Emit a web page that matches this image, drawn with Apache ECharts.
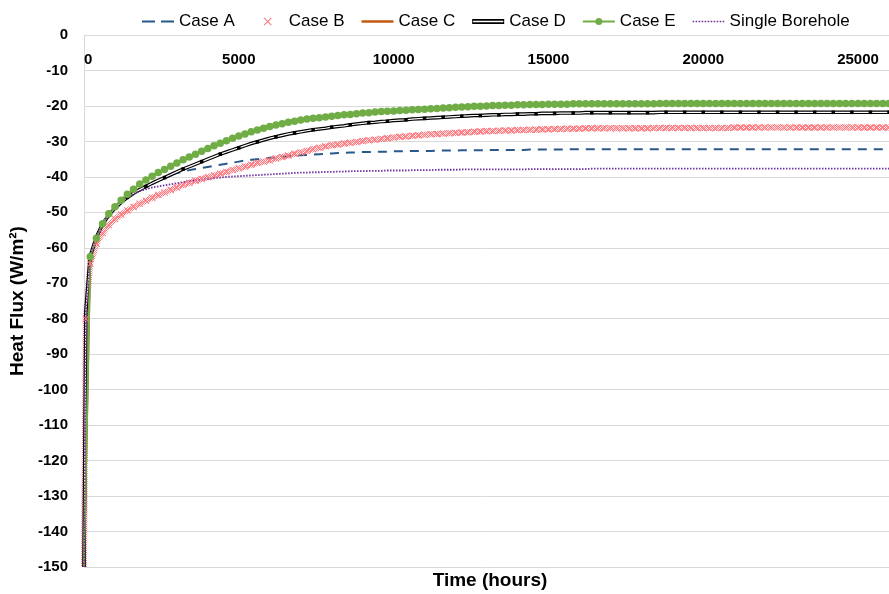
<!DOCTYPE html>
<html><head><meta charset="utf-8">
<script src="https://cdn.jsdelivr.net/npm/echarts@6/dist/echarts.min.js"></script>
<style>html,body{margin:0;padding:0;background:#fff}#c{width:889px;height:594px}</style>
</head><body><div id="c"></div>
<script>
// time in hours
const hours = [0,60,200,400,600,800,1000,1200,1400,1600,1800,
2000,2200,2400,2600,2800,3000,3200,3400,3600,3800,
4000,4200,4400,4600,4800,5000,5200,5400,5600,5800,
6000,6200,6400,6600,6800,7000,7200,7400,7600,7800,
8000,8200,8400,8600,8800,9000,9200,9400,9600,9800,
10000,10200,10400,10600,10800,11000,11200,11400,11600,11800,
12000,12200,12400,12600,12800,13000,13200,13400,13600,13800,
14000,14200,14400,14600,14800,15000,15200,15400,15600,15800,
16000,16200,16400,16600,16800,17000,17200,17400,17600,17800,
18000,18200,18400,18600,18800,19000,19200,19400,19600,19800,
20000,20200,20400,20600,20800,21000,21200,21400,21600,21800,
22000,22200,22400,22600,22800,23000,23200,23400,23600,23800,
24000,24200,24400,24600,24800,25000,25200,25400,25600,25800,
26000];

const caseA = [-150,-78,-62.5,-57.0,-53.3,-50.8,-48.8,-47.2,-45.8,-44.6,-43.6,
-42.7,-41.8,-41.0,-40.2,-39.4,-38.9,-38.5,-38.1,-37.8,-37.5,
-37.2,-36.9,-36.6,-36.3,-36.0,-35.7,-35.4,-35.2,-35.0,-34.8,
-34.6,-34.5,-34.3,-34.2,-34.0,-33.9,-33.8,-33.7,-33.6,-33.5,
-33.4,-33.3,-33.2,-33.1,-33.1,-33.0,-33.0,-32.9,-32.9,-32.9,
-32.8,-32.8,-32.8,-32.7,-32.7,-32.7,-32.7,-32.6,-32.6,-32.6,
-32.6,-32.5,-32.5,-32.5,-32.5,-32.5,-32.4,-32.4,-32.4,-32.4,
-32.4,-32.4,-32.3,-32.3,-32.3,-32.3,-32.3,-32.3,-32.2,-32.2,
-32.2,-32.2,-32.2,-32.2,-32.2,-32.2,-32.2,-32.2,-32.2,-32.2,
-32.2,-32.2,-32.2,-32.2,-32.2,-32.2,-32.2,-32.2,-32.2,-32.2,
-32.2,-32.2,-32.2,-32.2,-32.2,-32.2,-32.2,-32.2,-32.2,-32.2,
-32.2,-32.2,-32.2,-32.2,-32.2,-32.2,-32.2,-32.2,-32.2,-32.2,
-32.2,-32.2,-32.2,-32.2,-32.2,-32.2,-32.2,-32.2,-32.2,-32.2,
-32.2];

const caseB = [-150,-80,-64.5,-58.8,-55.8,-53.6,-51.9,-50.6,-49.5,-48.5,-47.6,
-46.7,-45.9,-45.1,-44.4,-43.7,-43.0,-42.3,-41.7,-41.1,-40.6,
-40.1,-39.6,-39.1,-38.6,-38.1,-37.6,-37.1,-36.6,-36.1,-35.7,
-35.3,-34.8,-34.4,-34.0,-33.5,-33.1,-32.7,-32.2,-31.8,-31.4,
-31.1,-30.9,-30.6,-30.4,-30.2,-29.9,-29.7,-29.5,-29.3,-29.1,
-28.9,-28.7,-28.6,-28.4,-28.3,-28.1,-28.0,-27.9,-27.8,-27.7,
-27.6,-27.5,-27.4,-27.3,-27.2,-27.1,-27.1,-27.0,-26.9,-26.9,
-26.8,-26.8,-26.7,-26.7,-26.6,-26.6,-26.5,-26.5,-26.4,-26.4,
-26.4,-26.3,-26.3,-26.3,-26.3,-26.3,-26.3,-26.3,-26.3,-26.3,
-26.3,-26.3,-26.2,-26.2,-26.2,-26.2,-26.2,-26.2,-26.2,-26.2,
-26.2,-26.2,-26.2,-26.2,-26.2,-26.1,-26.1,-26.1,-26.1,-26.1,
-26.1,-26.1,-26.1,-26.1,-26.1,-26.1,-26.1,-26.1,-26.1,-26.1,
-26.1,-26.1,-26.1,-26.1,-26.1,-26.1,-26.1,-26.1,-26.1,-26.1,
-26.1];

const caseC = [-150,null,-62.5,-57.3,-53.2,-50.4,-48.4,-46.6,-44.9,-43.5,-42.0,
-40.9,-39.8,-38.8,-37.9,-37.0,-36.1,-35.2,-34.4,-33.6,-32.8,
-32.0,-31.2,-30.5,-29.8,-29.1,-28.5,-27.9,-27.3,-26.8,-26.3,
-25.8,-25.4,-25.0,-24.6,-24.3,-24.0,-23.7,-23.5,-23.3,-23.1,
-22.9,-22.7,-22.5,-22.4,-22.2,-22.0,-21.9,-21.7,-21.6,-21.5,
-21.4,-21.3,-21.2,-21.1,-21.0,-20.9,-20.8,-20.7,-20.6,-20.5,
-20.4,-20.3,-20.2,-20.1,-20.1,-20.0,-19.9,-19.9,-19.8,-19.8,
-19.7,-19.7,-19.6,-19.6,-19.6,-19.5,-19.5,-19.5,-19.5,-19.4,
-19.4,-19.4,-19.4,-19.4,-19.4,-19.4,-19.4,-19.4,-19.4,-19.4,
-19.4,-19.4,-19.4,-19.3,-19.3,-19.3,-19.3,-19.3,-19.3,-19.3,
-19.3,-19.3,-19.3,-19.3,-19.3,-19.3,-19.3,-19.3,-19.3,-19.3,
-19.3,-19.3,-19.3,-19.3,-19.3,-19.3,-19.3,-19.3,-19.3,-19.3,
-19.3,-19.3,-19.3,-19.3,-19.3,-19.3,-19.3,-19.3,-19.3,-19.3,
-19.3];

const caseD = [-150,-78,-62.5,-57.0,-53.3,-50.8,-48.8,-47.2,-45.8,-44.6,-43.6,
-42.7,-41.8,-41.0,-40.2,-39.4,-38.6,-37.8,-37.1,-36.4,-35.7,
-35.0,-34.3,-33.6,-33.0,-32.4,-31.8,-31.2,-30.6,-30.1,-29.6,
-29.1,-28.7,-28.3,-27.9,-27.6,-27.3,-27.0,-26.7,-26.5,-26.3,
-26.0,-25.8,-25.6,-25.3,-25.1,-24.9,-24.7,-24.6,-24.4,-24.3,
-24.1,-24.0,-23.9,-23.7,-23.6,-23.5,-23.4,-23.3,-23.2,-23.1,
-23.0,-22.9,-22.8,-22.7,-22.7,-22.6,-22.5,-22.5,-22.4,-22.4,
-22.3,-22.3,-22.2,-22.2,-22.1,-22.1,-22.1,-22.0,-22.0,-22.0,
-22.0,-21.9,-21.9,-21.9,-21.9,-21.9,-21.9,-21.9,-21.9,-21.9,
-21.9,-21.9,-21.9,-21.8,-21.8,-21.8,-21.8,-21.8,-21.8,-21.8,
-21.8,-21.8,-21.8,-21.8,-21.8,-21.8,-21.8,-21.8,-21.8,-21.8,
-21.8,-21.8,-21.8,-21.8,-21.8,-21.8,-21.8,-21.8,-21.8,-21.8,
-21.8,-21.8,-21.8,-21.8,-21.8,-21.8,-21.8,-21.8,-21.8,-21.8,
-21.8];

const caseE = [-150,null,-62.5,-57.3,-53.2,-50.4,-48.4,-46.6,-44.9,-43.5,-42.0,
-40.9,-39.8,-38.8,-37.9,-37.0,-36.1,-35.2,-34.4,-33.6,-32.8,
-32.0,-31.2,-30.5,-29.8,-29.1,-28.5,-27.9,-27.3,-26.8,-26.3,
-25.8,-25.4,-25.0,-24.6,-24.3,-24.0,-23.7,-23.5,-23.3,-23.1,
-22.9,-22.7,-22.5,-22.4,-22.2,-22.0,-21.9,-21.7,-21.6,-21.5,
-21.4,-21.3,-21.2,-21.1,-21.0,-20.9,-20.8,-20.7,-20.6,-20.5,
-20.4,-20.3,-20.2,-20.1,-20.1,-20.0,-19.9,-19.9,-19.8,-19.8,
-19.7,-19.7,-19.6,-19.6,-19.6,-19.5,-19.5,-19.5,-19.5,-19.4,
-19.4,-19.4,-19.4,-19.4,-19.4,-19.4,-19.4,-19.4,-19.4,-19.4,
-19.4,-19.4,-19.4,-19.3,-19.3,-19.3,-19.3,-19.3,-19.3,-19.3,
-19.3,-19.3,-19.3,-19.3,-19.3,-19.3,-19.3,-19.3,-19.3,-19.3,
-19.3,-19.3,-19.3,-19.3,-19.3,-19.3,-19.3,-19.3,-19.3,-19.3,
-19.3,-19.3,-19.3,-19.3,-19.3,-19.3,-19.3,-19.3,-19.3,-19.3,
-19.3];

const singleBorehole = [-150,-78,-62.5,-57.0,-53.2,-50.5,-48.6,-47.0,-45.8,-44.8,-44.0,
-43.5,-43.0,-42.7,-42.4,-42.1,-41.8,-41.5,-41.2,-41.0,-40.8,
-40.6,-40.4,-40.2,-40.0,-39.9,-39.8,-39.7,-39.6,-39.5,-39.4,
-39.3,-39.2,-39.1,-39.0,-38.9,-38.8,-38.8,-38.7,-38.7,-38.6,
-38.6,-38.5,-38.5,-38.4,-38.4,-38.4,-38.3,-38.3,-38.3,-38.2,
-38.2,-38.2,-38.2,-38.1,-38.1,-38.1,-38.1,-38.0,-38.0,-38.0,
-38.0,-37.9,-37.9,-37.9,-37.9,-37.9,-37.9,-37.9,-37.9,-37.9,
-37.9,-37.9,-37.8,-37.8,-37.8,-37.8,-37.8,-37.8,-37.8,-37.8,
-37.8,-37.8,-37.7,-37.7,-37.7,-37.7,-37.7,-37.7,-37.7,-37.7,
-37.7,-37.7,-37.7,-37.7,-37.7,-37.7,-37.7,-37.7,-37.7,-37.7,
-37.7,-37.7,-37.7,-37.7,-37.7,-37.7,-37.7,-37.7,-37.7,-37.7,
-37.7,-37.7,-37.7,-37.7,-37.7,-37.7,-37.7,-37.7,-37.7,-37.7,
-37.7,-37.7,-37.7,-37.7,-37.7,-37.7,-37.7,-37.7,-37.7,-37.7,
-37.7];

const seriesNames = ['Case A','Case B','Case C','Case D','Case E','Single Borehole'];
const xTitle = 'Time (hours)';
const yTitle = 'Heat Flux (W/m²)';

function pairs(arr){ return hours.map((t,i)=>[t, arr[i]]); }

const FONT = 'Liberation Sans';
const anchor = 'M0,0 L0.01,0 L0,0.01 Z M32,14 L31.99,14 L32,13.99 Z ';
let dots = '';
for (let x = 0; x < 32; x += 3) dots += 'M' + x + ',6.2 H' + (x + 1.6) + ' V7.8 H' + x + ' Z ';
const icons = {
  'Case A': 'path://' + anchor + 'M0,6 H13 V8 H0 Z M19,6 H32 V8 H19 Z',
  'Case B': 'path://' + anchor + 'M12,3.8 L12.8,3 L16,6.2 L19.2,3 L20,3.8 L16.8,7 L20,10.2 L19.2,11 L16,7.8 L12.8,11 L12,10.2 L15.2,7 Z',
  'Case C': 'path://' + anchor + 'M0,5.8 H32 V8.2 H0 Z',
  'Case D': 'path://' + anchor + 'M0,4.6 H32 V9.4 H0 Z M0.9,6.3 V7.7 H31.1 V6.3 Z',
  'Case E': 'path://' + anchor + 'M0,6 H32 V8 H0 Z M12.5,7 A3.5,3.5 0 1 1 19.5,7 A3.5,3.5 0 1 1 12.5,7 Z',
  'Single Borehole': 'path://' + anchor + dots
};
const xMark = 'path://M0,1 L1,0 L5,4 L9,0 L10,1 L6,5 L10,9 L9,10 L5,6 L1,10 L0,9 L4,5 Z';

// checkered stroke pattern to imitate the dense band of overlapping x markers
const pc = document.createElement('canvas');
pc.width = 2; pc.height = 2;
const pctx = pc.getContext('2d');
pctx.fillStyle = 'rgba(255,100,110,0.85)';
pctx.fillRect(0, 0, 1, 1);
pctx.fillRect(1, 1, 1, 1);
const bandPattern = {image: pc, repeat: 'repeat'};

const chart = echarts.init(document.getElementById('c'), null, {renderer:'canvas'});
chart.setOption({
  animation: false,
  backgroundColor: '#fff',
  textStyle: {fontFamily: FONT},
  grid: {left: 84, right: 0, top: 35, bottom: 27, containLabel: false},
  legend: {
    top: 8, left: 137, itemWidth: 32, itemHeight: 14, itemGap: 17,
    symbolKeepAspect: true,
    textStyle: {fontSize: 17, color: '#000', fontFamily: FONT},
    data: seriesNames.map(n => ({name: n, icon: icons[n]}))
  },
  xAxis: {
    type: 'value', position: 'top', min: 0, max: 26000, interval: 5000,
    axisLine: {show: false}, axisTick: {show: false}, splitLine: {show: false},
    axisLabel: {inside: true, margin: 17, fontSize: 15, fontWeight: 'bold', color: '#000',
      showMaxLabel: false, alignMinLabel: 'left', formatter: (v) => String(v)}
  },
  yAxis: {
    type: 'value', min: -150, max: 0, interval: 10,
    axisLine: {show: true, lineStyle: {color: '#D9D9D9', width: 1}},
    axisTick: {show: false},
    splitLine: {lineStyle: {color: '#D9D9D9', width: 1}},
    axisLabel: {margin: 16, fontSize: 15, fontWeight: 'bold', color: '#000'},
    name: yTitle, nameLocation: 'middle', nameGap: 52,
    nameTextStyle: {fontSize: 19, fontWeight: 'bold', color: '#000'}
  },
  graphic: [{
    type: 'text', x: 490, y: 581,
    style: {text: xTitle, fontSize: 19, fontWeight: 'bold', fontFamily: FONT, fill: '#000',
      align: 'center', verticalAlign: 'middle'}
  }],
  series: [
    {name: 'Case A', type: 'line', data: pairs(caseA), symbol: 'none', color: '#27598A',
      lineStyle: {color: '#27598A', width: 2, type: [9, 7]}, emphasis: {disabled: true}},
    {name: 'Case B', type: 'line', data: pairs(caseB), color: '#FF7C80',
      symbol: (v) => (v[0] > 0 ? xMark : 'none'), symbolSize: 7, showSymbol: true,
      itemStyle: {color: '#FF7C80'}, lineStyle: {width: 6, color: bandPattern}, emphasis: {disabled: true}},
    {name: 'Case C', type: 'line', data: pairs(caseC), symbol: 'none', connectNulls: true, color: '#C55A11',
      lineStyle: {color: '#C55A11', width: 2}, emphasis: {disabled: true}},
    {name: 'Case D', type: 'line', data: pairs(caseD), symbol: 'none', color: '#000',
      lineStyle: {color: '#000', width: 3.6}, emphasis: {disabled: true}},
    {name: 'Case D core', type: 'line', data: pairs(caseD), color: '#000',
      symbol: (v, p) => (p.dataIndex >= 2 && p.dataIndex % 3 === 2 ? 'rect' : 'none'), symbolSize: 3.5, showSymbol: true,
      itemStyle: {color: '#000'}, lineStyle: {color: '#fff', width: 1.2}, emphasis: {disabled: true}},
    {name: 'Case E', type: 'line', data: pairs(caseE), connectNulls: true, color: '#70AD47',
      symbol: (v) => (v[0] > 0 ? 'circle' : 'none'), symbolSize: 7.5, showSymbol: true,
      itemStyle: {color: '#70AD47', borderColor: '#70AD47', borderWidth: 0},
      lineStyle: {color: '#70AD47', width: 2}, emphasis: {disabled: true}},
    {name: 'Single Borehole', type: 'line', data: pairs(singleBorehole), symbol: 'none', color: '#7030A0',
      lineStyle: {color: '#7030A0', width: 1.8, type: [1.5, 1.5]}, emphasis: {disabled: true}}
  ]
});
</script>
</body></html>
